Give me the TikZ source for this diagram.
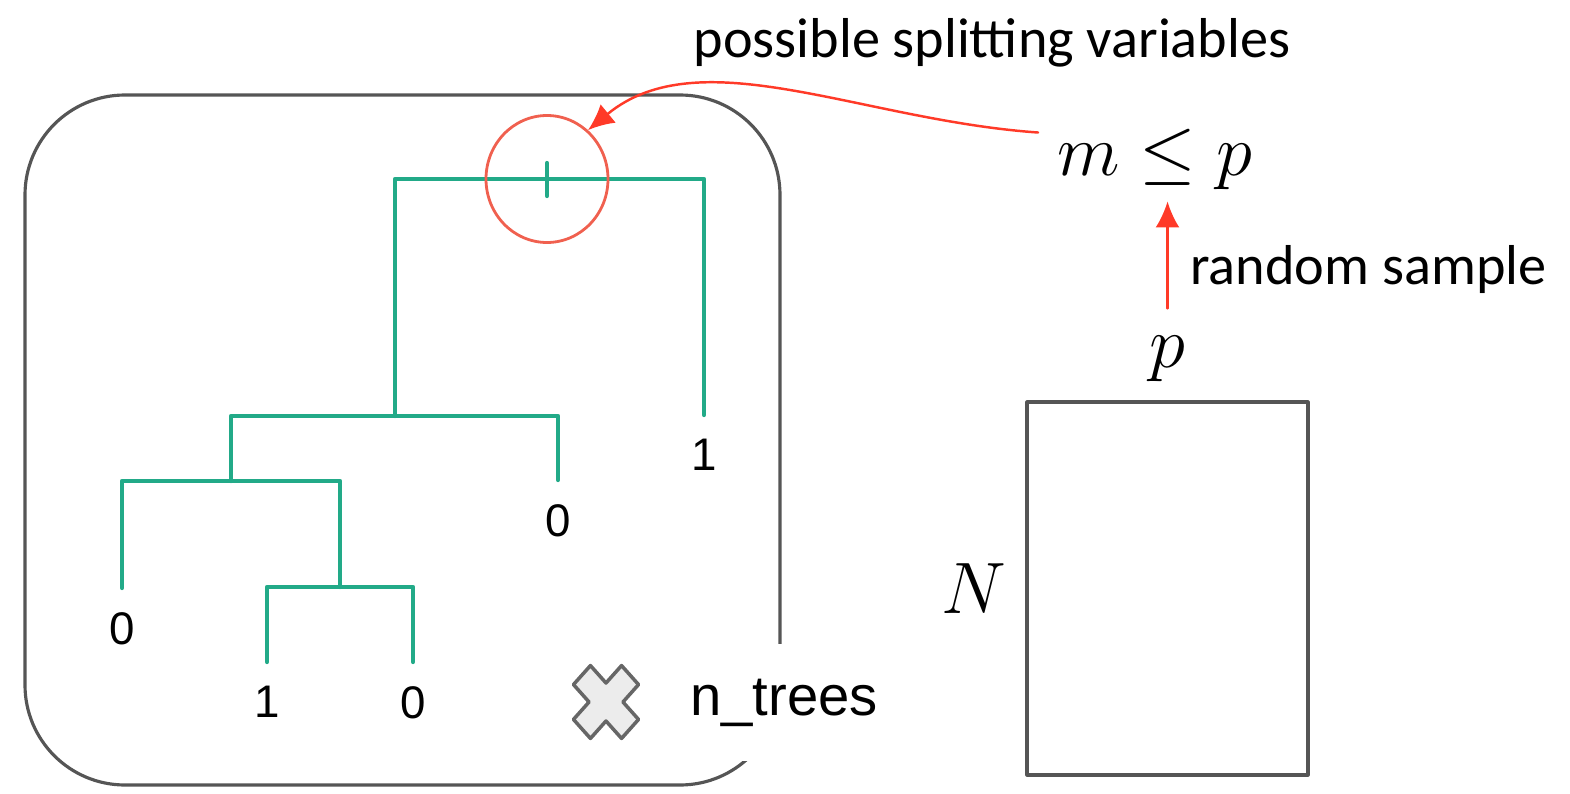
\documentclass[tikz,border=0pt]{standalone}
\usepackage{fontspec}
\setmainfont{Liberation Sans}
\newfontfamily\notefont{Carlito}
\usetikzlibrary{positioning,arrows.meta,shapes.geometric}
\definecolor{TreeGreen}{HTML}{22AA88}
\definecolor{SplitRed}{HTML}{F0604F}
\definecolor{ArrowRed}{HTML}{FF3A28}
\definecolor{FrameGray}{HTML}{555555}

\begin{document}
\begin{tikzpicture}[line cap=round,line join=round,
  branch/.style={TreeGreen,line width=1.2pt},
  leaf/.style={font=\fontsize{13}{15}\selectfont,inner sep=1pt},
  redarrow/.style={ArrowRed,line width=0.7pt,-{Latex[length=2.6mm,width=2.4mm]}},
  note/.style={font=\notefont\fontsize{16}{19}\selectfont,text=black},
  bigmath/.style={font=\fontsize{22}{26}\selectfont,inner sep=1pt},
  xmark/.style={fill=gray!15,draw=gray!80!black,line width=1pt}]
  \useasboundingbox (0,0) rectangle (15.70,7.93);
  % plate around one tree
  \draw[FrameGray,line width=0.9pt,rounded corners=1cm] (0.25,0.08) rectangle (7.80,6.98);
  \node[font=\fontsize{16}{19}\selectfont,fill=white,inner xsep=2pt,inner ysep=0.35cm,anchor=base] (ntrees) at (7.84,0.78) {n\_trees};
  \draw[xmark,shift={(6.06,0.91)},yscale=1.12,rotate=45] (0.12,0.12) -- (0.12,0.34) -- (-0.12,0.34) -- (-0.12,0.12) -- (-0.34,0.12) -- (-0.34,-0.12) -- (-0.12,-0.12) -- (-0.12,-0.34) -- (0.12,-0.34) -- (0.12,-0.12) -- (0.34,-0.12) -- (0.34,0.12) -- cycle;
  % tree
  \coordinate (s1) at (5.47,6.14);\coordinate (s2) at (3.95,3.77);
  \coordinate (s3) at (2.31,3.12);\coordinate (s4) at (3.40,2.06);
  \coordinate (e1) at (1.22,2.05);\coordinate (e2) at (2.67,1.31);\coordinate (e3) at (4.13,1.31);
  \coordinate (e4) at (5.58,3.13);\coordinate (e5) at (7.04,3.78);
  \draw[branch] (e2) |- (s4) -| (e3);
  \draw[branch] (e1) |- (s3) -| (s4);
  \draw[branch] (s3) |- (s2) -| (e4);
  \draw[branch] (s2) |- (s1) -| (e5);
  \draw[branch] ([yshift=1.6mm]s1) -- ([yshift=-1.7mm]s1);
  \node[leaf,below=2mm of e1] (l1) {0};
  \node[leaf,below=2mm of e2] (l2) {1};
  \node[leaf,below=2mm of e3] (l3) {0};
  \node[leaf,below=2mm of e4] (l4) {0};
  \node[leaf,below=2mm of e5] (l5) {1};
  \node[ellipse,draw=SplitRed,line width=0.8pt,minimum width=1.22cm,minimum height=1.27cm,inner sep=0pt] (split) at (s1) {};
  % data and sampling
  \node[draw=FrameGray,line width=0.9pt,minimum width=2.81cm,minimum height=3.73cm,inner sep=0pt] (data) at (11.675,2.045) {};
  \node[bigmath,left=1.5mm of data] (nrows) {$N$};
  \node[bigmath,above=1.5mm of data] (pvar) {$p$};
  \node[bigmath] (mp) at (11.55,6.34) {$m\leq p$};
  \node[note] (title) at (9.92,7.50) {possible splitting variables};
  \draw[redarrow,shorten <=2.3mm,shorten >=0.8mm] (pvar.north) -- node[note,right=1mm,yshift=-0.7mm] (rs) {random sample} (pvar.north |- mp.south);
  \draw[redarrow] ([xshift=-1.5mm,yshift=-0.8mm]mp.north west) .. controls (8.6,6.73) and (7.0,7.55) .. (split.50);
\end{tikzpicture}
\end{document}
